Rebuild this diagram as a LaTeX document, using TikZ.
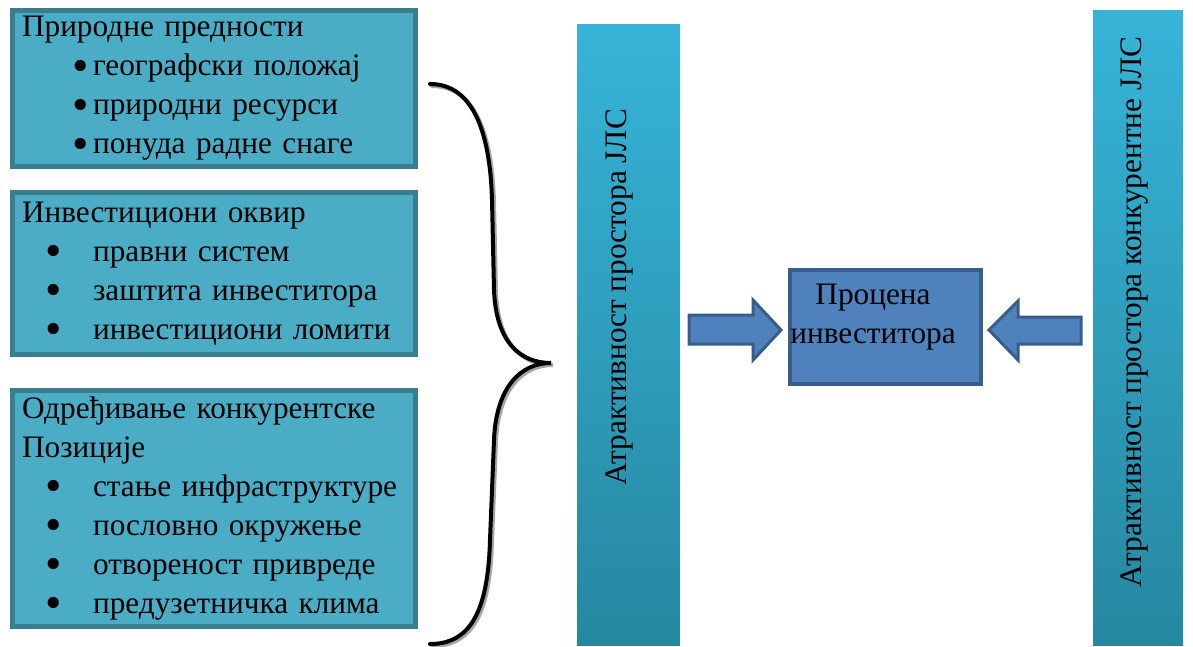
\documentclass[tikz,border=0pt]{standalone}
\usepackage{fontspec}
\setmainfont{Liberation Serif}
\usetikzlibrary{positioning}

\definecolor{boxfill}{RGB}{75,172,198}
\definecolor{boxline}{RGB}{57,125,143}
\definecolor{bartop}{RGB}{54,180,216}
\definecolor{barbottom}{RGB}{39,135,160}
\definecolor{evalfill}{RGB}{79,129,189}
\definecolor{evalline}{RGB}{56,93,138}

\newcommand{\bigdot}{\smash{\raisebox{-0.17em}{\scalebox{1.5}{\textbullet}}}}
\newcommand{\wideitem}[1]{\hspace*{1.0cm}\makebox[0.42cm][l]{\bigdot}#1}
\newcommand{\bulletitem}[1]{\hspace*{0.46cm}\makebox[0.96cm][l]{\bigdot}#1}

\begin{document}
\begin{tikzpicture}[x=0.02cm,y=-0.02cm,
    every node/.style={font=\fontsize{17.8}{22.2}\selectfont},
    infobox/.style={draw=boxline,fill=boxfill,line width=0.1cm,
      minimum width=8.06cm,text width=7.68cm,inner xsep=0.19cm,align=left},
    bar/.style={top color=bartop,bottom color=barbottom,inner sep=0pt},
    evalbox/.style={draw=evalline,fill=evalfill,line width=0.08cm,
      minimum width=3.82cm,minimum height=2.28cm},
    blockarrow/.style={draw=evalline,fill=evalfill,line width=0.06cm,line join=miter},
    brace/.style={line width=0.08cm,line cap=round}]
  \useasboundingbox (0,0) rectangle (1193,646);

  \node[infobox,minimum height=3.04cm] (nat) at (214,88.5) {%
    Природне предности\\
    \wideitem{географски положај}\\
    \wideitem{природни ресурси}\\
    \wideitem{понуда радне снаге}};
  \node[infobox,minimum height=3.24cm] (inv) at (214,273.5) {%
    Инвестициони оквир\\
    \bulletitem{правни систем}\\
    \bulletitem{заштита инвеститора}\\
    \bulletitem{инвестициони ломити}};
  \node[infobox,minimum height=4.56cm] (comp) at (214,508.5) {%
    Одређивање конкурентске\\
    Позиције\\
    \bulletitem{стање инфраструктуре}\\
    \bulletitem{пословно окружење}\\
    \bulletitem{отвореност привреде}\\
    \bulletitem{предузетничка клима}};

  % curly brace with its shadow
  \foreach \dx/\col in {2/black!35,0/black}
    \draw[brace,\col,shift={(\dx,\dx)}] (430,84) .. controls (472,84) and (490,130) .. (492,200)
      -- (494,290) .. controls (496,342) and (520,363) .. (551,363)
      .. controls (520,363) and (496,388) .. (494,440)
      -- (490,540) .. controls (488,612) and (470,644) .. (430,644);

  \node[bar,minimum width=2.06cm,minimum height=12.44cm] (barL) at (628.5,335) {};
  \node[rotate=90] (barLtext) at (619,297) {Атрактивност простора ЈЛС};
  \node[bar,minimum width=1.8cm,minimum height=12.72cm] (barR) at (1138,328) {};
  \node[rotate=90] (barRtext) at (1135,312) {Атрактивност простора конкурентне ЈЛС};

  \node[evalbox] (eval) at (885.5,327) {};
  \node[align=center] (evaltext) at (873,317) {Процена\\инвеститора};

  \draw[blockarrow] (689,315) -- (753,315) -- (753,300) -- (781,330) -- (753,360)
    -- (753,344) -- (689,344) -- cycle;
  \draw[blockarrow] (1081,317) -- (1018,317) -- (1018,301) -- (989,330) -- (1018,360)
    -- (1018,344) -- (1081,344) -- cycle;
\end{tikzpicture}
\end{document}
